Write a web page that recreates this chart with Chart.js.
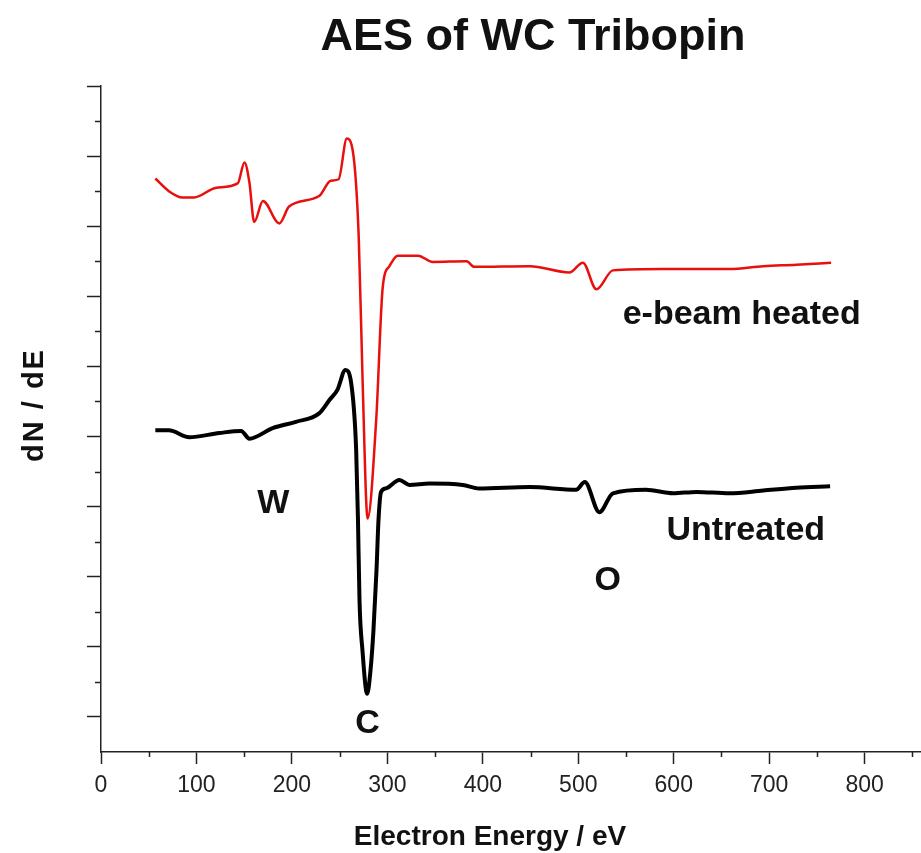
<!DOCTYPE html>
<html>
<head>
<meta charset="utf-8">
<script src="https://cdn.jsdelivr.net/npm/chart.js@4.4.1/dist/chart.umd.min.js"></script>
<style>
  html, body { margin: 0; padding: 0; background: #fff; }
  #wrap { width: 921px; height: 853px; position: relative; }
</style>
</head>
<body>
<div id="wrap"><canvas id="chart" width="921" height="853"></canvas></div>
<script>
// energy (eV) / dN/dE (arbitrary offset units)
const heatedEnergy = [56.9, 71.1, 85.3, 97.5, 120.9, 143.2, 150.3, 155.4, 160.5, 169.6, 186.9, 197, 228.5, 240.7, 248.9, 257.5, 263.7, 270, 274.2, 279.3, 288.3, 295.2, 302.2, 310.8, 332.1, 347.4, 382.9, 391.1, 449, 490.6, 504.8, 519, 536.3, 589.1, 658.2, 693.7, 728.3, 764.8];
const heatedSignal = [7.68, 7.50, 7.41, 7.41, 7.55, 7.61, 7.91, 7.63, 7.06, 7.36, 7.04, 7.28, 7.43, 7.65, 7.67, 8.25, 8.08, 6.84, 4.71, 2.83, 4.24, 6.14, 6.43, 6.58, 6.58, 6.49, 6.50, 6.42, 6.43, 6.34, 6.48, 6.10, 6.37, 6.39, 6.39, 6.43, 6.45, 6.48];

const untreatedEnergy = [56.9, 71.1, 92.4, 123.9, 146.8, 155.4, 179.8, 204.2, 228.5, 239.3, 247.8, 256, 262.1, 267.3, 269.2, 270.8, 273.9, 278.8, 282.3, 285.4, 288.6, 290.7, 293.4, 298.6, 312.6, 323, 344, 378.9, 396.1, 449, 497.7, 506.8, 522.1, 536.3, 570.8, 599.3, 623.7, 658.2, 693.7, 728.3, 763.8];
const untreatedSignal = [4.09, 4.09, 3.99, 4.05, 4.08, 3.97, 4.12, 4.21, 4.33, 4.52, 4.67, 4.95, 4.76, 3.81, 2.81, 1.66, 0.95, 0.33, 0.66, 1.23, 2.09, 2.81, 3.21, 3.26, 3.38, 3.31, 3.33, 3.31, 3.26, 3.28, 3.24, 3.35, 2.92, 3.19, 3.24, 3.19, 3.21, 3.19, 3.23, 3.27, 3.29];

const xTicks = [0, 100, 200, 300, 400, 500, 600, 700, 800];
const xMinorTicks = [50, 150, 250, 350, 450, 550, 650, 750, 850];
const yTicks = [0, 1, 2, 3, 4, 5, 6, 7, 8, 9];
const yMinorTicks = [0.5, 1.5, 2.5, 3.5, 4.5, 5.5, 6.5, 7.5, 8.5];

// peak / curve labels in data units
const noteText = ['W', 'C', 'O', 'e-beam heated', 'Untreated'];
const noteX = [180.6, 279.1, 530.7, 671.2, 675.4];
const noteY = [3.05, -0.09, 1.95, 5.74, 2.66];

const FONT = "'Liberation Sans', Arial, sans-serif";
const AXIS = '#222';

function toPoints(xs, ys) {
    return xs.map((x, i) => ({ x: x, y: ys[i] }));
}

// minor ticks + all the free text
const extrasPlugin = {
    id: 'extras',
    afterDraw(chart) {
        const ctx = chart.ctx;
        const xs = chart.scales.x;
        const ys = chart.scales.y;
        const area = chart.chartArea;

        ctx.save();
        ctx.strokeStyle = AXIS;
        ctx.lineWidth = 1.5;
        ctx.beginPath();
        xMinorTicks.forEach(v => {
            const px = Math.round(xs.getPixelForValue(v)) + 0.5;
            if (px > area.right) return;
            ctx.moveTo(px, area.bottom);
            ctx.lineTo(px, area.bottom + 5);
        });
        yMinorTicks.forEach(v => {
            const py = Math.round(ys.getPixelForValue(v)) + 0.5;
            ctx.moveTo(area.left, py);
            ctx.lineTo(area.left - 6, py);
        });
        ctx.stroke();

        ctx.fillStyle = '#111';
        ctx.textAlign = 'center';
        ctx.textBaseline = 'middle';

        ctx.font = 'bold 34px ' + FONT;
        noteText.forEach((t, i) => {
            ctx.fillText(t, xs.getPixelForValue(noteX[i]), ys.getPixelForValue(noteY[i]));
        });

        // title
        ctx.font = 'bold 45px ' + FONT;
        ctx.fillText('AES of WC Tribopin', 533, 38);

        // axis titles
        ctx.font = 'bold 28px ' + FONT;
        ctx.textBaseline = 'alphabetic';
        ctx.fillText('Electron Energy / eV', 490, 845);

        ctx.save();
        ctx.translate(35, 405);
        ctx.rotate(-Math.PI / 2);
        ctx.textBaseline = 'middle';
        ctx.font = 'bold 29px ' + FONT;
        ctx.letterSpacing = '2px';
        ctx.fillText('dN / dE', 0, 0);
        ctx.restore();

        ctx.restore();
    }
};

new Chart(document.getElementById('chart'), {
    type: 'line',
    data: {
        datasets: [
            {
                label: 'e-beam heated',
                data: toPoints(heatedEnergy, heatedSignal),
                borderColor: '#e8100c',
                borderWidth: 2.5,
                pointRadius: 0,
                cubicInterpolationMode: 'monotone',
                fill: false,
                order: 0
            },
            {
                label: 'Untreated',
                data: toPoints(untreatedEnergy, untreatedSignal),
                borderColor: '#000',
                borderWidth: 4,
                pointRadius: 0,
                cubicInterpolationMode: 'monotone',
                fill: false,
                order: 1
            }
        ]
    },
    options: {
        responsive: false,
        animation: false,
        layout: { padding: { top: 86, right: 0, bottom: 0, left: 0 } },
        plugins: {
            legend: { display: false },
            tooltip: { enabled: false }
        },
        scales: {
            x: {
                type: 'linear',
                min: 0,
                max: 859,
                afterBuildTicks: s => { s.ticks = xTicks.map(v => ({ value: v })); },
                afterFit: s => { s.height = 101; },
                grid: { drawOnChartArea: false, drawTicks: true, tickLength: 12, tickColor: AXIS, tickWidth: 1.5 },
                border: { color: AXIS, width: 1.5 },
                ticks: { color: '#222', font: { family: FONT, size: 23 }, padding: 8, maxRotation: 0 }
            },
            y: {
                type: 'linear',
                min: -0.5,
                max: 9,
                afterBuildTicks: s => { s.ticks = yTicks.map(v => ({ value: v })); },
                afterFit: s => { s.width = 101; },
                grid: { drawOnChartArea: false, drawTicks: true, tickLength: 14, tickColor: AXIS, tickWidth: 1.5 },
                border: { color: AXIS, width: 1.5 },
                ticks: { display: false }
            }
        }
    },
    plugins: [extrasPlugin]
});
</script>
</body>
</html>
